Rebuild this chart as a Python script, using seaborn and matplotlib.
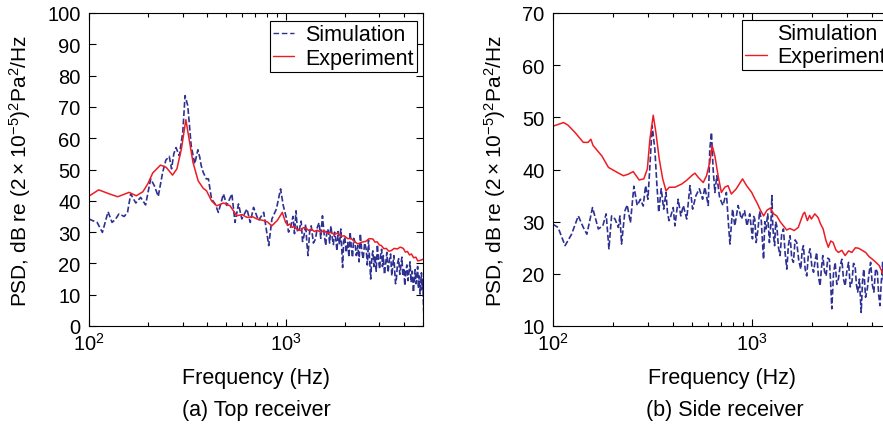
import matplotlib
matplotlib.use("Agg")
import matplotlib.pyplot as plt
import seaborn as sns
from matplotlib.lines import Line2D
from matplotlib.ticker import MultipleLocator

# Top receiver - simulation (Hz, dB)
top_sim_f = [100, 104, 110, 117, 125, 131, 136, 142, 151, 157, 163, 173, 183, 194, 206, 215,
             225, 237, 246, 256, 263, 270, 277, 288, 300, 308, 318, 331, 345, 358, 366, 372,
             381, 395, 405, 420, 438, 455, 483, 502, 533, 553, 576, 599, 636, 661, 687, 728,
             774, 821, 852, 898, 943, 973,
             1012, 1035, 1060, 1090, 1110, 1130, 1150, 1176, 1200, 1220, 1240, 1265, 1285, 1300,
             1325, 1350, 1385, 1420, 1450, 1480, 1510, 1540, 1570, 1600, 1625, 1650, 1675, 1700,
             1725, 1750, 1775, 1800, 1825, 1850, 1880, 1910, 1930, 1950, 1975, 2000, 2035, 2070,
             2100, 2130, 2160, 2190, 2220, 2250, 2290, 2330, 2365, 2400, 2440, 2480, 2525, 2570,
             2605, 2640, 2675, 2710, 2745, 2780, 2815, 2850, 2890, 2930, 2970, 3010, 3045, 3080,
             3110, 3140, 3185, 3230, 3275, 3320, 3370, 3420, 3470, 3520, 3555, 3590, 3625, 3660,
             3710, 3760, 3810, 3860, 3905, 3950, 3995, 4040, 4090, 4140, 4190, 4240, 4295, 4350,
             4410, 4470, 4515, 4560, 4605, 4650, 4695, 4740, 4785, 4830, 4870, 4910, 4950, 4990,
             5020, 5050, 5075, 5100]
top_sim_db = [34.2, 33.7, 33.1, 29.9, 36.5, 33.1, 34.0, 35.8, 35.0, 36.3, 42.2, 39.3, 41.1, 38.7,
              47.0, 44.8, 41.4, 49.1, 53.0, 54.2, 50.2, 55.0, 57.0, 54.4, 62.0, 73.6, 70.4, 57.6,
              51.8, 56.3, 53.9, 51.3, 49.1, 47.0, 47.0, 40.6, 39.0, 36.3, 42.2, 38.5, 42.2, 33.1,
              39.0, 34.2, 37.4, 33.1, 37.9, 33.7, 36.3, 25.7, 34.2, 37.4, 43.8, 38.5,
              34.2, 30.0, 31.5, 35.0, 29.5, 36.8, 30.0, 31.0, 33.5, 27.0, 28.8, 32.5, 26.0, 22.5,
              30.0, 32.0, 26.5, 27.8, 31.5, 33.0, 28.0, 35.2, 29.5, 25.7, 31.0, 30.5, 26.5, 32.0,
              28.5, 26.0, 30.0, 27.8, 24.0, 30.2, 26.0, 31.0, 24.5, 18.7, 27.0, 28.5, 23.5, 26.7,
              22.0, 30.0, 25.0, 21.9, 28.0, 27.0, 22.5, 25.7, 20.5, 29.5, 24.0, 21.4, 26.5, 24.6,
              19.5, 27.5, 21.0, 15.0, 22.0, 24.0, 19.0, 22.5, 17.5, 26.0, 21.0, 18.2, 23.0, 24.5,
              19.0, 22.5, 16.5, 20.0, 23.5, 17.1, 21.0, 23.0, 16.0, 20.3, 22.5, 17.5, 13.5, 15.0,
              20.0, 21.5, 16.5, 19.3, 22.0, 16.0, 18.5, 12.9, 17.5, 19.5, 14.5, 17.1, 20.5, 14.0,
              17.5, 10.8, 15.0, 18.0, 13.5, 15.5, 19.0, 12.0, 16.0, 10.2, 14.0, 17.0, 11.5, 15.0,
              8.0, 3.3, 12.0, 13.0]

# Top receiver - experiment
top_exp_f = [100, 112, 127, 140, 160, 174, 188, 199, 211, 231, 247, 266, 280, 295, 311, 323,
             338, 359, 381, 396, 420, 446, 483, 522, 565, 600, 636, 680, 714, 773, 810, 851,
             907, 962, 1000, 1030, 1050, 1080, 1104, 1150, 1192, 1230, 1270, 1310, 1352, 1400,
             1450, 1510, 1570, 1630, 1700, 1770, 1840, 1910, 1990, 2070, 2150, 2240, 2330, 2440,
             2550, 2660, 2780, 2850, 2920, 3000, 3070, 3160, 3250, 3350, 3450, 3570, 3700, 3830,
             3970, 4070, 4170, 4270, 4370, 4480, 4600, 4700, 4800, 4950, 5100]
top_exp_db = [41.5, 43.5, 42.2, 41.3, 42.7, 41.6, 42.9, 45.4, 48.9, 51.4, 50.7, 48.2, 50.2, 56.5,
              65.9, 59.7, 52.3, 46.4, 44.0, 43.2, 40.0, 38.4, 39.3, 38.4, 35.2, 35.6, 34.7, 34.9,
              34.2, 33.7, 33.2, 32.0, 33.7, 36.3, 33.1, 32.2, 32.6, 31.5, 31.8, 30.8, 30.5, 31.4,
              31.3, 30.5, 31.0, 30.2, 30.6, 29.9, 30.5, 29.6, 29.9, 29.2, 29.7, 28.7, 28.8, 27.9,
              28.0, 27.0, 26.2, 26.8, 27.0, 27.9, 27.8, 26.8, 26.9, 25.9, 25.7, 24.7, 24.8, 23.9,
              24.1, 24.8, 24.6, 25.2, 24.8, 23.6, 23.8, 22.7, 23.0, 21.8, 22.0, 20.8, 20.9, 21.2,
              21.6]

# Side receiver - simulation
side_sim_f = [100, 106, 115, 124, 134, 142, 148, 158, 169, 178, 185, 191, 197, 205, 213, 217,
              221, 230, 236, 245, 255, 265, 275, 284, 292, 300, 307, 315, 325, 333, 340, 350,
              360, 370, 376, 383, 387, 402, 410, 426, 439, 452, 470, 488, 503, 523, 544, 565,
              580, 603, 614, 626, 638, 651, 666, 688, 715, 744, 759, 775, 799, 820, 852, 885,
              918, 944, 975,
              1006, 1020, 1033, 1050, 1073, 1093, 1113, 1128, 1144, 1160, 1177, 1200, 1224, 1245,
              1260, 1272, 1286, 1300, 1316, 1333, 1360, 1385, 1410, 1440, 1468, 1497, 1525, 1555,
              1585, 1616, 1648, 1680, 1720, 1760, 1788, 1815, 1850, 1885, 1920, 1960, 2000, 2040,
              2078, 2115, 2158, 2200, 2235, 2270, 2315, 2360, 2405, 2450, 2485, 2520, 2570, 2620,
              2670, 2720, 2775, 2830, 2885, 2940, 3000, 3060, 3120, 3180, 3240, 3300, 3350, 3400,
              3470, 3540, 3595, 3650, 3725, 3800, 3875, 3950, 4025, 4100, 4185, 4270, 4335, 4400,
              4470, 4540, 4580, 4620, 4710, 4800, 4900, 5000]
side_sim_db = [29.5, 28.9, 25.4, 27.6, 31.1, 28.9, 27.6, 32.7, 28.6, 29.2, 31.5, 24.8, 31.1, 30.5,
               28.9, 31.1, 25.7, 32.1, 33.2, 29.8, 36.8, 33.1, 34.3, 33.0, 36.9, 34.3, 40.7, 48.4,
               43.9, 36.9, 31.8, 36.3, 32.4, 35.6, 31.8, 30.2, 30.5, 32.7, 29.2, 34.3, 31.1, 33.1,
               30.5, 36.9, 32.4, 35.0, 36.3, 34.3, 36.6, 33.1, 43.9, 47.1, 40.1, 35.6, 38.8, 34.6,
               33.1, 35.6, 30.5, 25.7, 32.4, 29.2, 33.1, 30.5, 32.1, 29.2, 31.5,
               26.7, 31.0, 30.5, 26.0, 28.6, 32.0, 30.5, 26.5, 22.8, 30.0, 28.6, 31.5, 26.0, 29.5,
               35.0, 29.2, 27.0, 25.4, 30.0, 29.2, 25.0, 23.5, 27.5, 28.6, 24.0, 20.9, 25.5, 27.3,
               23.0, 22.2, 26.5, 26.0, 22.5, 20.9, 24.5, 25.4, 21.0, 19.6, 23.5, 24.8, 21.5, 20.3,
               22.5, 24.1, 19.5, 17.7, 21.0, 23.5, 20.5, 19.6, 23.0, 22.8, 18.5, 13.3, 20.0, 22.2,
               18.0, 19.0, 21.5, 22.8, 19.0, 17.7, 20.5, 22.2, 17.5, 18.4, 22.0, 21.6, 18.0, 16.5,
               19.0, 12.6, 18.5, 20.9, 15.5, 17.1, 20.0, 22.2, 18.0, 16.5, 21.0, 20.3, 16.0, 13.9,
               18.5, 22.2, 19.0, 17.7, 14.5, 15.5, 20.0, 19.0]

# Side receiver - experiment
side_exp_f = [100, 113, 119, 129, 142, 150, 155, 159, 176, 190, 209, 226, 239, 253, 271, 286,
              298, 307, 319, 329, 342, 356, 370, 384, 410, 443, 469, 497, 517, 537, 569, 591,
              614, 631, 651, 676, 702, 730, 758, 788, 834, 897, 940, 997, 1030, 1058, 1100, 1144,
              1190, 1236, 1285, 1333, 1385, 1440, 1495, 1550, 1630, 1710, 1770, 1810, 1840, 1900,
              1950, 1990, 2070, 2150, 2210, 2280, 2350, 2420, 2490, 2560, 2640, 2720, 2830, 2940,
              3060, 3180, 3310, 3440, 3580, 3730, 3880, 4030, 4200, 4360, 4520, 4680, 5000]
side_exp_db = [48.3, 49.0, 48.5, 47.1, 45.2, 45.2, 45.8, 44.6, 42.6, 40.4, 39.5, 38.8, 39.1, 39.6,
               38.0, 38.2, 40.1, 45.8, 50.4, 47.1, 42.0, 38.2, 35.9, 36.6, 36.6, 37.2, 37.9, 38.8,
               39.3, 38.5, 37.5, 38.8, 41.4, 44.6, 42.6, 38.8, 35.6, 36.6, 36.9, 35.3, 36.3, 38.2,
               36.9, 35.6, 34.5, 33.7, 32.3, 31.1, 32.2, 32.6, 31.5, 31.1, 30.0, 29.2, 28.4, 28.7,
               28.3, 28.9, 30.5, 31.5, 31.8, 30.2, 31.2, 30.5, 31.5, 30.8, 29.6, 28.6, 26.5, 25.1,
               26.3, 26.0, 24.6, 24.1, 24.5, 23.5, 24.4, 24.1, 25.0, 24.9, 24.5, 24.1, 23.3, 22.8,
               22.2, 21.6, 20.3, 19.6, 19.0]

sim_color = '#2e3192'
exp_color = '#ed1c24'

sns.set_style('ticks')
plt.rcParams['font.family'] = ['Liberation Sans', 'DejaVu Sans']
plt.rcParams['mathtext.default'] = 'regular'
plt.rcParams['xtick.direction'] = 'in'
plt.rcParams['ytick.direction'] = 'in'
plt.rcParams['xtick.top'] = True
plt.rcParams['ytick.right'] = True
plt.rcParams['text.color'] = 'black'
plt.rcParams['axes.labelcolor'] = 'black'
plt.rcParams['xtick.color'] = 'black'
plt.rcParams['ytick.color'] = 'black'

fig = plt.figure(figsize=(8.83, 4.35), dpi=100)
ax1 = fig.add_axes([89 / 883, 108 / 435, 334 / 883, 313 / 435])
ax2 = fig.add_axes([553 / 883, 108 / 435, 338 / 883, 313 / 435])

ylabel = r'PSD, dB re $(2\times10^{-5})^2$Pa$^2$/Hz'

panels = [
    (ax1, top_sim_f, top_sim_db, top_exp_f, top_exp_db, (0, 100), '(a) Top receiver', 89 + 167),
    (ax2, side_sim_f, side_sim_db, side_exp_f, side_exp_db, (10, 70), '(b) Side receiver', 553 + 172),
]

for ax, sf, sd, ef, ed, ylim, caption, cx in panels:
    sns.lineplot(x=sf, y=sd, ax=ax, color=sim_color, linewidth=1.2,
                 linestyle=(0, (3.5, 1.5)), estimator=None, label='Simulation')
    sns.lineplot(x=ef, y=ed, ax=ax, color=exp_color, linewidth=1.1,
                 estimator=None, label='Experiment')
    ax.set_xscale('log')
    ax.set_xlim(100, 5000)
    ax.set_ylim(*ylim)
    ax.yaxis.set_major_locator(MultipleLocator(10))
    ax.tick_params(labelsize=14.5, length=5, width=0.8)
    ax.tick_params(axis='y', pad=6)
    ax.tick_params(axis='x', pad=4)
    ax.tick_params(which='minor', length=3, width=0.8)
    ax.set_xlabel('Frequency (Hz)', fontsize=15.5, labelpad=10)
    ax.set_ylabel(ylabel, fontsize=15, labelpad=10)
    for s in ax.spines.values():
        s.set_linewidth(0.8)
        s.set_color('black')
    fig.text(cx / 883, 1 - 411 / 435, caption, ha='center', va='center', fontsize=15.5)

sim_handle = Line2D([], [], color=sim_color, linewidth=1.0, linestyle=(0, (4, 2)))
exp_handle = Line2D([], [], color=exp_color, linewidth=1.0)
blank_handle = Line2D([], [], color='none', linewidth=1.0)

leg_kw = dict(frameon=True, fancybox=False, framealpha=1, edgecolor='black', fontsize=15.5,
              handlelength=1.0, handletextpad=0.5, labelspacing=0.1, borderpad=0.15,
              borderaxespad=0)
l1 = ax1.legend([sim_handle, exp_handle], ['Simulation', 'Experiment'],
                loc='upper right', bbox_to_anchor=(0.982, 0.974), **leg_kw)
l2 = ax2.legend([blank_handle, exp_handle], ['Simulation', 'Experiment'],
                loc='upper left', bbox_to_anchor=(0.559, 0.978), **leg_kw)
for leg in (l1, l2):
    leg.get_frame().set_linewidth(0.8)

fig.savefig('out.png', dpi=100)
